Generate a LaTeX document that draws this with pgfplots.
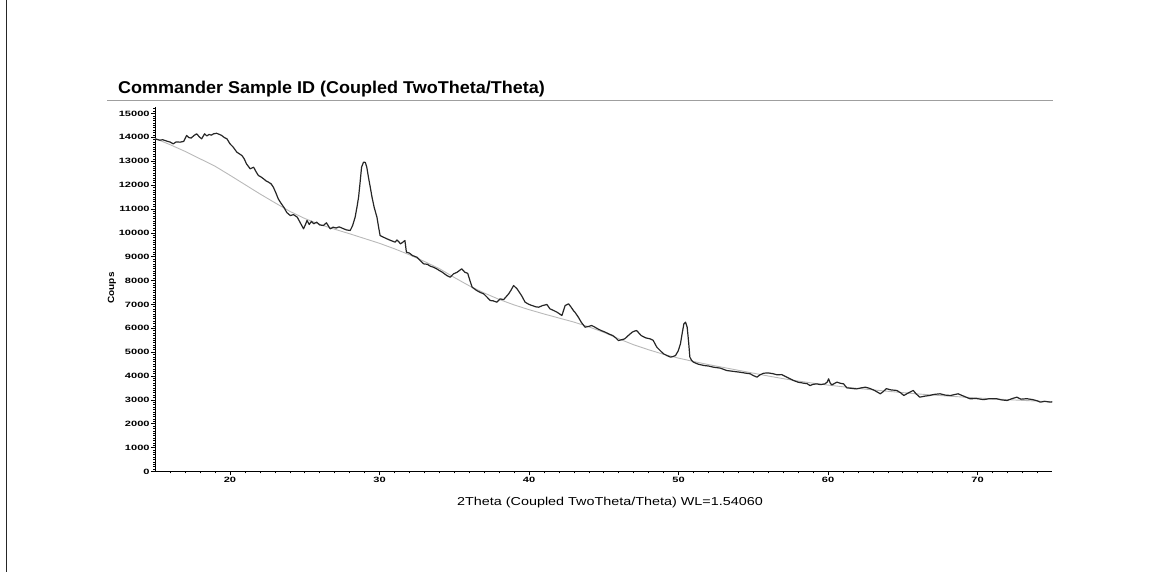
\documentclass[border=0pt]{standalone}
\usepackage{fontspec}
\setmainfont{Liberation Sans}
\usepackage{graphicx}
\usepackage{pgfplots}
\pgfplotsset{compat=1.18}

\pgfplotstableread{
x y
15 13950
16 13690
17 13410
18 13100
19 12790
20 12410
21 12020
22 11630
23 11260
24 10900
25 10600
26 10350
27 10150
28 9960
29 9760
30 9560
31 9330
32 9080
33 8800
34 8500
35 8130
36 7780
37 7480
38 7210
39 6980
40 6780
41 6600
42 6430
43 6260
44 6060
45 5830
46 5560
47 5310
48 5100
49 4910
50 4750
51 4610
52 4480
53 4360
54 4240
55 4120
56 4000
57 3890
58 3790
59 3700
60 3620
62 3480
64 3360
66 3250
68 3160
70 3080
72 3010
75 2920
}\background

\pgfplotstableread{
x y
15.0 13935
15.3 13880
15.5 13900
15.78 13840
16.0 13800
16.2 13727
16.4 13810
16.66 13797
16.9 13830
17.1 14076
17.25 13990
17.4 13970
17.6 14080
17.77 14147
17.95 14020
18.1 13935
18.3 14147
18.45 14060
18.6 14120
18.75 14090
18.9 14147
19.1 14170
19.3 14120
19.45 14076
19.6 14000
19.8 13935
20.0 13727
20.2 13600
20.46 13377
20.65 13300
20.8 13237
20.95 13100
21.1 12890
21.35 12680
21.58 12750
21.75 12550
21.9 12400
22.05 12350
22.25 12260
22.4 12180
22.58 12120
22.75 12050
22.9 11912
23.05 11700
23.23 11420
23.4 11250
23.6 11070
23.8 10850
24.03 10724
24.25 10760
24.5 10655
24.7 10420
24.92 10168
25.05 10350
25.15 10515
25.3 10350
25.45 10480
25.6 10380
25.8 10445
26.0 10330
26.25 10306
26.45 10420
26.7 10166
26.9 10236
27.1 10200
27.3 10250
27.6 10168
27.8 10120
28.04 10097
28.2 10300
28.37 10654
28.5 11100
28.6 11490
28.7 12100
28.8 12748
28.93 12958
29.05 12950
29.15 12750
29.26 12330
29.4 11850
29.5 11490
29.65 11050
29.83 10654
29.95 10200
30.04 9887
30.25 9820
30.5 9747
30.75 9680
31.05 9607
31.16 9700
31.3 9620
31.4 9537
31.55 9600
31.7 9677
31.8 9189
32.0 9150
32.2 9050
32.5 8978
32.75 8820
32.95 8700
33.2 8680
33.4 8600
33.6 8560
33.8 8500
34.0 8420
34.2 8350
34.5 8211
34.73 8140
34.95 8280
35.2 8350
35.5 8492
35.7 8352
35.9 8300
36.05 8000
36.2 7720
36.5 7582
36.75 7500
36.97 7442
37.2 7300
37.4 7164
37.6 7150
37.85 7093
38.07 7233
38.3 7200
38.64 7442
38.8 7600
38.97 7791
39.2 7652
39.5 7373
39.74 7093
40.0 7000
40.2 6954
40.45 6900
40.65 6884
40.9 6950
41.2 6996
41.4 6814
41.6 6760
41.87 6675
42.05 6600
42.2 6535
42.42 6954
42.65 7023
42.8 6900
42.97 6744
43.1 6650
43.3 6465
43.5 6250
43.75 6046
44.0 6080
44.19 6116
44.4 6050
44.6 5976
44.85 5900
45.1 5836
45.35 5760
45.6 5697
45.8 5600
45.98 5487
46.2 5520
46.4 5557
46.65 5700
46.9 5836
47.05 5880
47.2 5906
47.35 5800
47.5 5697
47.8 5600
48.1 5557
48.3 5500
48.55 5208
48.8 5050
49.0 4929
49.25 4850
49.47 4790
49.65 4820
49.8 4860
49.98 5050
50.13 5349
50.25 5800
50.36 6187
50.47 6256
50.58 6046
50.68 5400
50.76 4790
50.88 4650
51.0 4580
51.3 4500
51.7 4440
52.0 4420
52.34 4370
52.8 4330
53.23 4230
53.6 4200
54.1 4160
54.5 4120
54.8 4093
55.0 4020
55.25 3953
55.45 4050
55.7 4118
56.0 4130
56.3 4100
56.6 4050
56.9 4060
57.25 3950
57.47 3883
57.7 3810
58.0 3741
58.37 3700
58.6 3680
58.8 3600
59.0 3650
59.24 3672
59.5 3640
59.8 3672
59.95 3750
60.04 3883
60.15 3700
60.26 3630
60.6 3745
60.8 3700
61.04 3672
61.26 3505
61.6 3480
61.9 3460
62.2 3500
62.5 3532
62.8 3480
63.1 3400
63.5 3255
63.7 3350
63.9 3470
64.2 3420
64.6 3395
64.85 3300
65.07 3184
65.4 3300
65.7 3395
65.9 3250
66.14 3114
66.5 3160
66.8 3184
67.1 3230
67.5 3255
67.85 3200
68.2 3184
68.45 3220
68.7 3255
69.1 3150
69.5 3045
69.9 3060
70.4 3010
70.8 3050
71.3 3045
71.6 3000
71.98 2975
72.3 3050
72.63 3114
72.9 3030
73.3 3050
73.7 3010
74.0 2960
74.2 2905
74.5 2940
74.87 2905
75.0 2920
}\measured

\begin{document}
\begin{tikzpicture}[x=1pt,y=1pt]
\path[use as bounding box] (0,0) rectangle (1149,572);
\draw[line width=1.3pt, black!85] (6.5,0) -- (6.5,572);
\draw[gray!75, line width=1pt] (107,471.5) -- (1052.5,471.5);
\node[anchor=base west, inner sep=0, font=\bfseries\fontsize{18}{18}\selectfont] at (118,478) {\scalebox{1}[0.95]{Commander Sample ID (Coupled TwoTheta/Theta)}};
\node[rotate=90, inner sep=0, font=\bfseries\fontsize{10}{10}\selectfont] at (112,284) {\scalebox{1}[0.9]{Coups}};
\node[inner sep=0, font=\fontsize{11.5}{12}\selectfont] at (610,69) {\scalebox{1.25}[1]{2Theta (Coupled TwoTheta/Theta) WL=1.54060}};
\begin{axis}[
  at={(155.25pt,100.5pt)}, anchor=south west,
  scale only axis, width=897pt, height=364pt,
  xmin=15, xmax=75, ymin=0, ymax=15250,
  enlargelimits=false,
  axis lines=left,
  axis line style={-, black, line width=0.9pt},
  tick align=outside,
  major tick length=4pt, minor tick length=2pt,
  every tick/.style={black, line width=0.6pt},
  xtick={20,30,...,70},
  minor xtick={16,17,...,74},
  ytick={0,1000,...,15000},
  minor ytick={100,200,...,15200},
  scaled x ticks=false, scaled y ticks=false,
  /pgf/number format/assume math mode=true,
  ticklabel style={font=\bfseries\fontsize{8.5}{9}\selectfont, inner sep=1.5pt},
  xticklabel={\scalebox{1.3}[0.9]{\pgfmathprintnumber[fixed,precision=0,1000 sep={}]{\tick}}},
  yticklabel={\scalebox{1.3}[0.9]{\pgfmathprintnumber[fixed,precision=0,1000 sep={}]{\tick}}},
  clip=false,
]
\addplot[gray!55, line width=0.9pt] table[x=x,y=y] {\background};
\addplot[black!85, line width=1.2pt, line join=round] table[x=x,y=y] {\measured};
\end{axis}
\end{tikzpicture}
\end{document}
